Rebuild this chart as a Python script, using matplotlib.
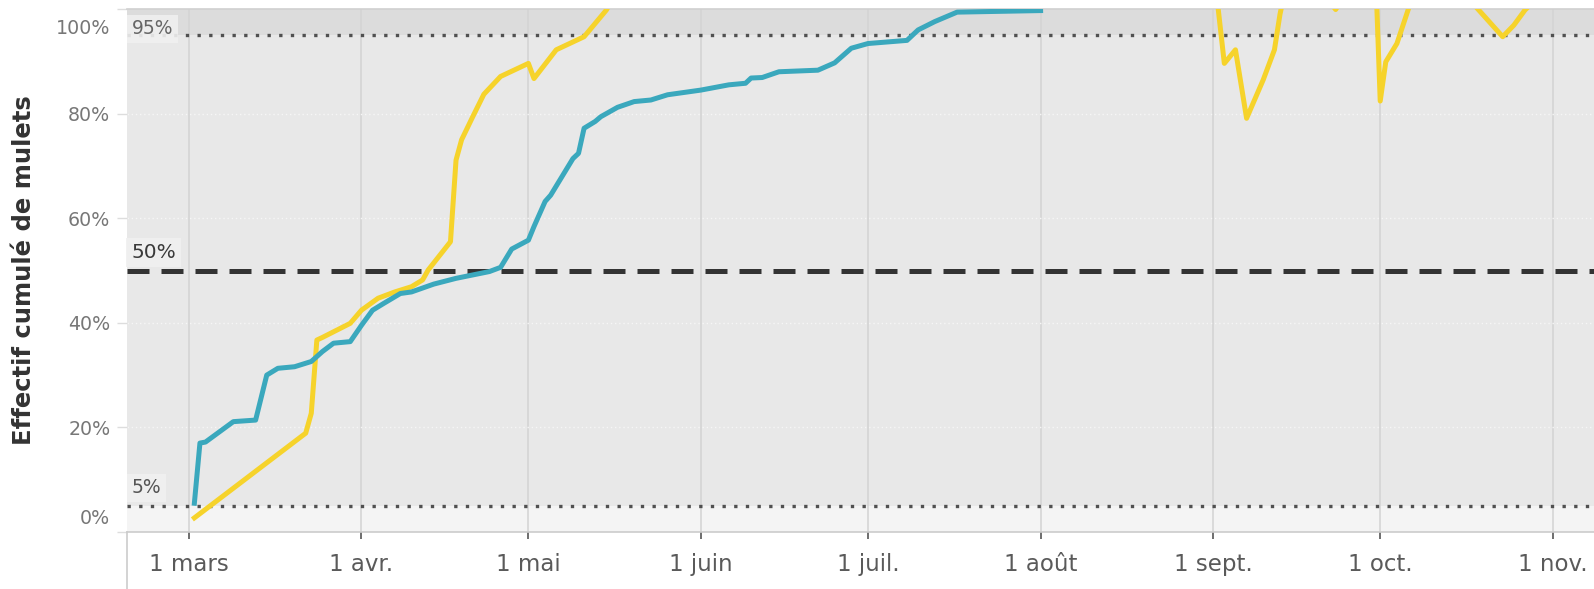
import matplotlib
matplotlib.use("Agg")
import matplotlib.pyplot as plt
from matplotlib.transforms import ScaledTranslation, blended_transform_factory
import pandas as pd

YEAR = 2019

# série bleue (cumul en %)
teal_dates = ["03-02", "03-03", "03-04", "03-09", "03-13", "03-15", "03-17", "03-20",
              "03-23", "03-25", "03-27", "03-30", "04-01", "04-03", "04-05", "04-08",
              "04-10", "04-14", "04-18", "04-24", "04-26", "04-28", "05-01", "05-02",
              "05-04", "05-05", "05-07", "05-09", "05-10", "05-11", "05-13", "05-14",
              "05-17", "05-20", "05-23", "05-26", "06-01", "06-06", "06-09", "06-10",
              "06-12", "06-15", "06-22", "06-25", "06-28", "07-01", "07-08", "07-10",
              "07-13", "07-17", "08-01"]
teal_vals = [5.5, 17.0, 17.2, 21.1, 21.4, 30.0, 31.3, 31.6,
             32.6, 34.5, 36.1, 36.4, 39.5, 42.4, 43.7, 45.6,
             45.9, 47.4, 48.5, 49.8, 50.6, 54.1, 55.8, 58.4,
             63.2, 64.4, 67.9, 71.4, 72.4, 77.2, 78.5, 79.4,
             81.2, 82.3, 82.6, 83.6, 84.5, 85.5, 85.8, 86.8,
             86.9, 88.0, 88.3, 89.7, 92.5, 93.4, 94.0, 96.0,
             97.6, 99.4, 99.7]

# série jaune (cumul en %, dépasse 100 % par endroits)
yellow_dates = ["03-02", "03-22", "03-23", "03-24", "03-25", "03-30", "04-01", "04-04",
                "04-07", "04-10", "04-12", "04-13", "04-17", "04-18", "04-19", "04-21",
                "04-23", "04-26", "05-01", "05-02", "05-06", "05-11", "05-15", "05-17",
                "06-01", "07-01", "08-01", "09-01", "09-03", "09-05", "09-07", "09-10",
                "09-12", "09-13", "09-14", "09-20", "09-23", "09-26", "09-30", "10-01",
                "10-02", "10-04", "10-06", "10-07", "10-12", "10-16", "10-23", "10-25",
                "10-27", "11-01", "11-10"]
yellow_vals = [2.7, 18.9, 22.7, 36.7, 37.2, 39.9, 42.4, 44.7,
               45.9, 46.9, 48.2, 50.1, 55.5, 71.1, 75.0, 79.4,
               83.7, 87.1, 89.6, 86.7, 92.2, 94.7, 99.8, 103.5,
               106.0, 108.0, 110.0, 108.5, 89.6, 92.2, 79.1, 86.5,
               92.2, 99.0, 104.0, 104.0, 99.9, 105.0, 112.0, 82.4,
               89.9, 93.4, 99.8, 103.0, 106.0, 103.0, 94.7, 96.9,
               99.8, 105.0, 107.0]

month_ticks = ["03-01", "04-01", "05-01", "06-01", "07-01", "08-01", "09-01", "10-01", "11-01"]
month_labels = ["1 mars", "1 avr.", "1 mai", "1 juin", "1 juil.", "1 août",
                "1 sept.", "1 oct.", "1 nov."]
pct_ticks = [0, 20, 40, 60, 80, 100]
ref_levels = [5, 50, 95]
ref_labels = ["5%", "50%", "95%"]


def to_dates(md):
    return pd.to_datetime([f"{YEAR}-{d}" for d in md])


fig = plt.figure(figsize=(15.94, 5.89), dpi=100, facecolor="white")
ax = fig.add_axes([127 / 1594, 57 / 589, 1 - 127 / 1594, 523 / 589])

# bandes de fond
ax.axhspan(0, 5, color="#f4f4f4", lw=0, zorder=0)
ax.axhspan(5, 95, color="#e8e8e8", lw=0, zorder=0)
ax.axhspan(95, 100, color="#dcdcdc", lw=0, zorder=0)

start = pd.Timestamp(f"{YEAR}-03-01")
ax.set_xlim(start - pd.Timedelta(days=11.1), start + pd.Timedelta(days=252.4))
ax.set_ylim(0, 100)

# grilles
for d in to_dates(month_ticks):
    ax.axvline(d, color="#d3d3d3", lw=1.1, zorder=1)
for p in pct_ticks[1:-1]:
    ax.axhline(p, color="#f6f6f6", lw=1, ls=(0, (1, 2)), zorder=1)

# lignes de référence
ax.axhline(5, color="#505050", lw=2.4, ls=(0, (1, 2.5)), zorder=2)
ax.axhline(95, color="#505050", lw=2.4, ls=(0, (1, 2.5)), zorder=2)
ax.axhline(50, color="#333333", lw=3.6, ls=(0, (4.4, 2.4)), zorder=2)

# courbes
ax.plot(to_dates(yellow_dates), yellow_vals, color="#f6d32b", lw=3.6,
        solid_joinstyle="round", zorder=3)
ax.plot(to_dates(teal_dates), teal_vals, color="#3aa8bd", lw=3.6,
        solid_joinstyle="round", zorder=4)

# étiquettes des lignes de référence
tr = blended_transform_factory(ax.transAxes, ax.transData)
lab_style = {
    "5%": dict(dy=1.6, color="#555555", size=13.5),
    "50%": dict(dy=1.6, color="#3a3a3a", size=14.5),
    "95%": dict(dy=-0.6, color="#666666", size=13.5),
}
for lvl, lab in zip(ref_levels, ref_labels):
    st = lab_style[lab]
    ax.text(0.003, lvl + st["dy"], lab, transform=tr, ha="left", va="bottom",
            color=st["color"], fontsize=st["size"], zorder=5,
            bbox=dict(boxstyle="square,pad=0.25", fc="#f0f0f0", ec="none", alpha=0.9))

# axes et ticks
ax.set_xticks(to_dates(month_ticks))
ax.set_xticklabels(month_labels)
ax.set_yticks(pct_ticks)
ax.set_yticklabels([f"{p}%" for p in pct_ticks])
ax.tick_params(axis="x", length=5, width=1.2, color="#555555", pad=10,
               labelsize=16.5, labelcolor="#5a5a5a")
ax.tick_params(axis="y", length=7, width=1, color="#dddddd", pad=5,
               labelsize=13.7, labelcolor="#777777")

ylabs = ax.get_yticklabels()
ylabs[0].set_transform(ylabs[0].get_transform() + ScaledTranslation(0, 0.15, fig.dpi_scale_trans))
ylabs[-1].set_transform(ylabs[-1].get_transform() + ScaledTranslation(0, -0.18, fig.dpi_scale_trans))

ax.spines["right"].set_visible(False)
ax.spines["left"].set_visible(False)
ax.spines["top"].set_color("#d0d0d0")
ax.spines["bottom"].set_color("#cccccc")
ax.spines["top"].set_linewidth(1.2)
ax.spines["bottom"].set_linewidth(1.2)

# prolongement de l'axe gauche sous le graphique
ax.plot([0, 0], [0, -57 / 523], transform=ax.transAxes, color="#cccccc",
        lw=1.2, clip_on=False, zorder=6)

ax.set_ylabel("Effectif cumulé de mulets", fontsize=17.5, fontweight="bold", color="#333333")
ax.yaxis.set_label_coords(-91 / 1467, 0.5)

fig.savefig("out.png", dpi=100, facecolor="white")
